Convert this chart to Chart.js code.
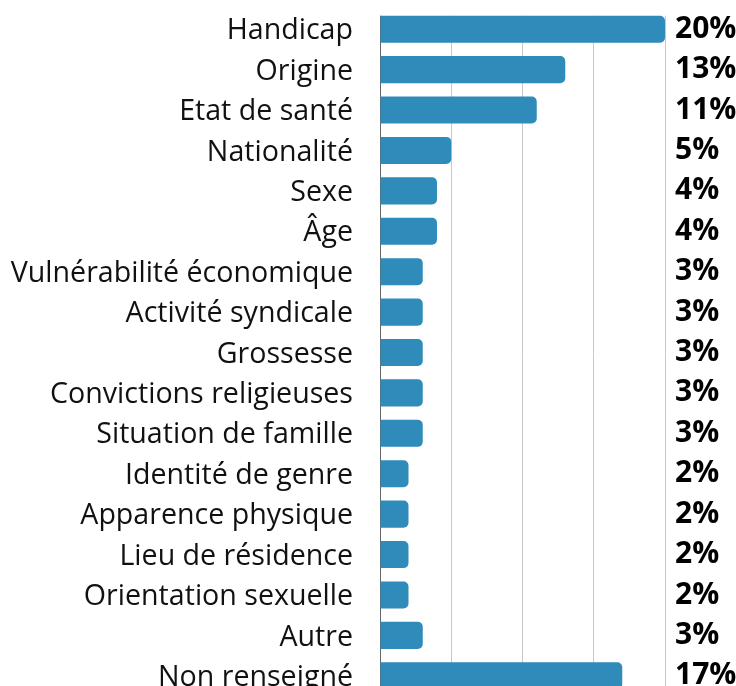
<!DOCTYPE html>
<html>
<head>
<meta charset="utf-8">
<script src="https://cdn.jsdelivr.net/npm/chart.js@4"></script>
<style>
  html, body { margin: 0; padding: 0; background: #fff; overflow: hidden; }
  #wrap { width: 736px; height: 686px; overflow: hidden; }
</style>
</head>
<body>
<div id="wrap"><canvas id="chart" width="736" height="705"></canvas></div>
<script>
const categories = [
  'Handicap', 'Origine', 'Etat de santé', 'Nationalité', 'Sexe', 'Âge',
  'Vulnérabilité économique', 'Activité syndicale', 'Grossesse',
  'Convictions religieuses', 'Situation de famille', 'Identité de genre',
  'Apparence physique', 'Lieu de résidence', 'Orientation sexuelle',
  'Autre', 'Non renseigné'
];
const values = [20, 13, 11, 5, 4, 4, 3, 3, 3, 3, 3, 2, 2, 2, 2, 3, 17];
const xTicks = [0, 5, 10, 15, 20];

// la grille et l'axe commencent au haut de la première barre
const trimTop = {
  id: 'trimTop',
  beforeDatasetsDraw(chart) {
    const { ctx, chartArea } = chart;
    const first = chart.getDatasetMeta(0).data[0];
    const top = first.y - first.height / 2;
    ctx.save();
    ctx.fillStyle = '#fff';
    ctx.fillRect(chartArea.left - 2, 0, chartArea.right - chartArea.left + 4, top);
    ctx.restore();
  }
};

// valeurs affichées à droite du graphique
const valueLabels = {
  id: 'valueLabels',
  afterDatasetsDraw(chart) {
    const { ctx, chartArea } = chart;
    const meta = chart.getDatasetMeta(0);
    ctx.save();
    ctx.font = 'bold 30px "Open Sans"';
    ctx.fillStyle = '#000';
    ctx.textAlign = 'left';
    ctx.textBaseline = 'middle';
    meta.data.forEach((bar, i) => {
      ctx.fillText(values[i] + '%', chartArea.right + 10, bar.y);
    });
    ctx.restore();
  }
};

const noPad = axis => {
  axis.paddingTop = 0;
  axis.paddingBottom = 0;
  axis.paddingLeft = 0;
  axis.paddingRight = 0;
};

new Chart(document.getElementById('chart').getContext('2d'), {
  type: 'bar',
  data: {
    labels: categories,
    datasets: [{
      data: values,
      backgroundColor: '#2E8BBA',
      borderRadius: { topRight: 5, bottomRight: 5 },
      borderSkipped: 'start',
      categoryPercentage: 1,
      barPercentage: 0.67
    }]
  },
  options: {
    indexAxis: 'y',
    responsive: false,
    animation: false,
    layout: { padding: { top: 9, bottom: 9, right: 71, left: 0 } },
    plugins: {
      legend: { display: false },
      tooltip: { enabled: false }
    },
    scales: {
      x: {
        min: 0,
        max: 20,
        afterBuildTicks: axis => { axis.ticks = xTicks.map(v => ({ value: v })); },
        afterFit: axis => { axis.height = 0; noPad(axis); },
        ticks: { display: false },
        grid: { color: '#c8c8c8', lineWidth: 1, drawTicks: false },
        border: { display: false }
      },
      y: {
        afterFit: axis => { axis.width = 380; noPad(axis); },
        ticks: {
          color: '#111',
          padding: 27,
          labelOffset: 2,
          font: { family: 'Open Sans', size: 28.6 }
        },
        grid: { display: false, drawTicks: false },
        border: { color: '#666', width: 1 }
      }
    }
  },
  plugins: [trimTop, valueLabels]
});
</script>
</body>
</html>
